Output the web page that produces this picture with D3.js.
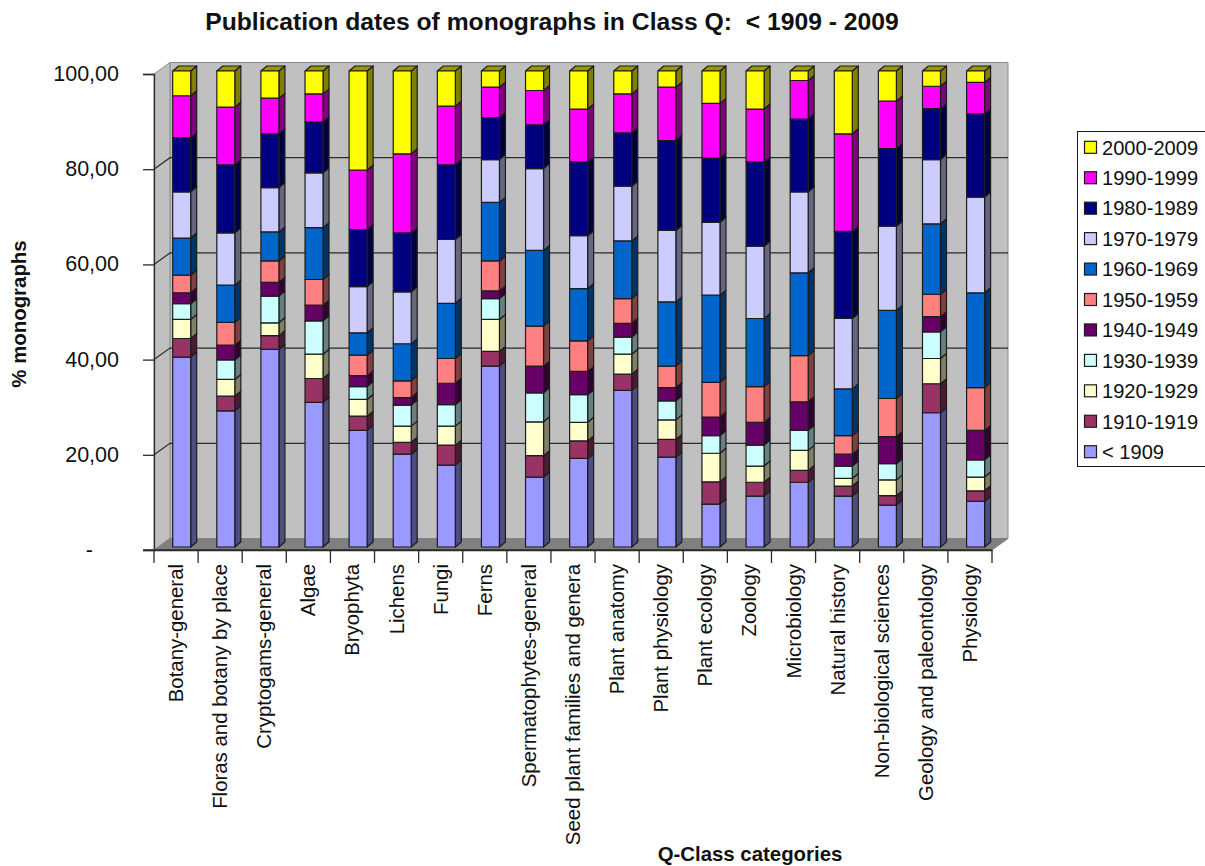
<!DOCTYPE html>
<html>
<head>
<meta charset="utf-8">
<script src="https://cdn.jsdelivr.net/npm/d3@7/dist/d3.min.js"></script>
<style>
html, body { margin: 0; padding: 0; background: #fff; overflow: hidden; }
svg { display: block; font-family: "Liberation Sans", Arial, sans-serif; }
</style>
</head>
<body>
<svg id="chart" width="1205" height="866"></svg>
<script>
// Share of monographs per publication decade, by Q-Class category
const categories = ["Botany-general", "Floras and botany by place", "Cryptogams-general", "Algae", "Bryophyta", "Lichens", "Fungi", "Ferns", "Spermatophytes-general", "Seed plant families and genera", "Plant anatomy", "Plant physiology", "Plant ecology", "Zoology", "Microbiology", "Natural history", "Non-biological sciences", "Geology and paleontology", "Physiology"];

const before1909 = [39.9, 28.6, 41.5, 30.4, 24.5, 19.5, 17.2, 38.0, 14.7, 18.6, 32.9, 18.9, 9.0, 10.7, 13.6, 10.7, 8.8, 28.2, 9.6];
const d1910 = [3.9, 3.1, 2.9, 5.0, 3.0, 2.5, 4.2, 3.1, 4.5, 3.7, 3.4, 3.7, 4.7, 2.9, 2.5, 2.1, 2.0, 6.1, 2.2];
const d1920 = [4.0, 3.5, 2.7, 5.1, 3.5, 3.4, 4.0, 6.7, 7.1, 3.9, 4.2, 4.1, 6.0, 3.4, 4.2, 1.6, 3.3, 5.3, 2.9];
const d1930 = [3.3, 4.1, 5.6, 7.0, 2.7, 4.4, 4.5, 4.4, 6.1, 5.8, 3.6, 4.0, 3.7, 4.4, 4.2, 2.6, 3.4, 5.6, 3.6];
const d1940 = [2.3, 3.1, 2.9, 3.3, 2.3, 1.6, 4.5, 1.6, 5.6, 4.9, 2.9, 2.8, 3.9, 4.8, 6.0, 2.5, 5.7, 3.2, 6.2];
const d1950 = [3.7, 4.8, 4.5, 5.4, 4.3, 3.5, 5.2, 6.3, 8.4, 6.4, 5.2, 4.5, 7.3, 7.5, 9.7, 3.9, 8.0, 4.7, 9.0];
const d1960 = [7.8, 7.8, 6.1, 10.9, 4.7, 7.8, 11.6, 12.3, 15.9, 11.0, 12.1, 13.5, 18.3, 14.3, 17.4, 9.8, 18.5, 14.8, 19.9];
const d1970 = [9.7, 11.0, 9.3, 11.5, 9.7, 10.9, 13.4, 9.0, 17.2, 11.1, 11.5, 15.0, 15.3, 15.2, 17.0, 14.8, 17.7, 13.5, 20.1];
const d1980 = [11.4, 14.3, 11.3, 10.7, 12.0, 12.4, 15.7, 8.8, 9.2, 15.5, 11.2, 18.9, 13.5, 17.7, 15.3, 18.3, 16.3, 10.7, 17.5];
const d1990 = [8.8, 12.1, 7.5, 5.9, 12.5, 16.6, 12.3, 6.4, 7.2, 11.1, 8.2, 11.2, 11.5, 11.1, 8.1, 20.5, 10.0, 4.7, 6.6];
const d2000 = [5.2, 7.6, 5.7, 4.8, 20.8, 17.4, 7.4, 3.4, 4.1, 8.0, 4.8, 3.4, 6.8, 8.0, 2.0, 13.2, 6.3, 3.2, 2.4];

const seriesNames = ["< 1909", "1910-1919", "1920-1929", "1930-1939", "1940-1949", "1950-1959", "1960-1969", "1970-1979", "1980-1989", "1990-1999", "2000-2009"];
const seriesColors = ["#9999ff", "#993366", "#ffffcc", "#ccffff", "#660066", "#ff8080", "#0066cc", "#ccccff", "#000080", "#ff00ff", "#ffff00"];
const seriesValues = [before1909, d1910, d1920, d1930, d1940, d1950, d1960, d1970, d1980, d1990, d2000];
const yTicks = [0, 20, 40, 60, 80, 100];

const svg = d3.select("#chart");

// Pseudo-3D box: front plane, back wall offset, and bar depth
const frontLeft = 154, frontRight = 992, frontBottom = 550, frontTop = 74;
const wallDx = 16, wallDy = -11.5;
const barDx = 6, barDy = -5, barWidth = 18, barInset = 18.7, barLift = -3;

const xSlot = d3.scaleBand().domain(categories).range([frontLeft, frontRight]);
const yAxisScale = d3.scaleLinear().domain([0, 100]).range([frontBottom, frontTop]);
const yBar = d3.scaleLinear().domain([0, 100]).range([frontBottom + barLift, frontTop + barLift]);

const pts = a => a.map(p => p.join(",")).join(" ");
const shade = (c, k) => { const r = d3.rgb(c); return d3.rgb(r.r * k, r.g * k, r.b * k).formatHex(); };

// Walls and floor
const walls = svg.append("g");
walls.append("polygon")
  .attr("points", pts([[frontLeft + wallDx, frontTop + wallDy], [frontRight + wallDx, frontTop + wallDy], [frontRight + wallDx, frontBottom + wallDy], [frontLeft + wallDx, frontBottom + wallDy]]))
  .attr("fill", "#c0c0c0").attr("stroke", "#8c8c8c").attr("stroke-width", 1);
walls.append("polygon")
  .attr("points", pts([[frontLeft, frontTop], [frontLeft + wallDx, frontTop + wallDy], [frontLeft + wallDx, frontBottom + wallDy], [frontLeft, frontBottom]]))
  .attr("fill", "#c0c0c0").attr("stroke", "#8c8c8c").attr("stroke-width", 1);
walls.append("polygon")
  .attr("points", pts([[frontLeft, frontBottom], [frontLeft + wallDx, frontBottom + wallDy], [frontRight + wallDx, frontBottom + wallDy], [frontRight, frontBottom]]))
  .attr("fill", "#808080").attr("stroke", "#808080").attr("stroke-width", 1);

// Gridlines run along the back wall and fold down the side wall
const grid = svg.append("g").attr("stroke", "#2b2b2b").attr("stroke-width", 1.2).attr("fill", "none");
yTicks.filter(t => t > 0 && t < 100).forEach(t => {
  const y0 = yAxisScale(t);
  grid.append("polyline")
    .attr("points", pts([[frontLeft, y0], [frontLeft + wallDx, y0 + wallDy], [frontRight + wallDx, y0 + wallDy]]));
});

// Stacked columns
const stack = d3.stack().keys(d3.range(seriesNames.length)).value((row, k) => row[k]);
const rows = categories.map((c, i) => seriesValues.map(s => s[i]));
const layers = stack(rows);

const barsG = svg.append("g").attr("stroke", "#1c1c1c").attr("stroke-width", 1.2).attr("stroke-linejoin", "round");
categories.forEach((cat, i) => {
  const g = barsG.append("g");
  const x0 = xSlot(cat) + barInset, x1 = x0 + barWidth;
  layers.forEach((layer, k) => {
    const yb = yBar(layer[i][0]), yt = yBar(layer[i][1]);
    const col = seriesColors[k];
    g.append("polygon")
      .attr("points", pts([[x1, yt], [x1 + barDx, yt + barDy], [x1 + barDx, yb + barDy], [x1, yb]]))
      .attr("fill", shade(col, 0.5));
    if (k === layers.length - 1) {
      g.append("polygon")
        .attr("points", pts([[x0, yt], [x0 + barDx, yt + barDy], [x1 + barDx, yt + barDy], [x1, yt]]))
        .attr("fill", shade(col, 0.6));
    }
    g.append("rect")
      .attr("x", x0).attr("y", yt).attr("width", barWidth).attr("height", yb - yt)
      .attr("fill", col);
  });
});

// Axes; the accounting-style zero is a dash set further left than the numbers
const yAxis = d3.axisLeft(yAxisScale)
  .tickValues(yTicks)
  .tickSize(11)
  .tickPadding(24)
  .tickFormat(d => d === 0 ? "-" : d3.format(".2f")(d).replace(".", ","));
const yG = svg.append("g").attr("transform", `translate(${frontLeft},0)`).call(yAxis);
yG.selectAll("path,line").attr("stroke", "#2b2b2b").attr("stroke-width", 1.3);
yG.selectAll("text").attr("font-size", 21.5).attr("fill", "#111").attr("font-family", "Liberation Sans").attr("dy", "0.3em");
yG.selectAll(".tick").filter(d => d === 0).select("text").attr("x", -61);

const xAxis = d3.axisBottom(xSlot).tickSize(0).tickFormat("");
const xG = svg.append("g").attr("transform", `translate(0,${frontBottom})`).call(xAxis);
xG.selectAll("path").attr("stroke", "#2b2b2b").attr("stroke-width", 1.3);
xG.selectAll(".tick").remove();
xG.append("line").attr("x1", frontLeft - 11).attr("x2", frontRight).attr("stroke", "#2b2b2b").attr("stroke-width", 1.3);
categories.concat(null).forEach(c => {
  const x = c ? xSlot(c) : frontRight;
  xG.append("line").attr("x1", x).attr("x2", x).attr("y1", 0).attr("y2", 13)
    .attr("stroke", "#2b2b2b").attr("stroke-width", 1.3);
});

// Rotated category labels, reading upward and ending just below the axis
svg.append("g").selectAll("text").data(categories).join("text")
  .attr("transform", d => `translate(${xSlot(d) + xSlot.bandwidth() / 2 + 7},564) rotate(-90)`)
  .attr("text-anchor", "end")
  .attr("font-size", 20.4)
  .attr("fill", "#111")
  .text(d => d);

// Titles
svg.append("text").attr("x", 552).attr("y", 30).attr("text-anchor", "middle")
  .attr("font-size", 24.7).attr("font-weight", "bold").attr("fill", "#111")
  .attr("xml:space", "preserve")
  .text("Publication dates of monographs in Class Q:  < 1909 - 2009");
svg.append("text").attr("transform", "translate(26,314) rotate(-90)").attr("text-anchor", "middle")
  .attr("font-size", 20.4).attr("font-weight", "bold").attr("fill", "#111")
  .text("% monographs");
svg.append("text").attr("x", 750).attr("y", 861).attr("text-anchor", "middle")
  .attr("font-size", 20.4).attr("font-weight", "bold").attr("fill", "#111")
  .text("Q-Class categories");

// Legend, newest decade first
const legend = svg.append("g");
legend.append("rect").attr("x", 1077.5).attr("y", 131.5).attr("width", 140).attr("height", 335)
  .attr("fill", "#fff").attr("stroke", "#1c1c1c").attr("stroke-width", 1);
const legendY = d3.scalePoint().domain(d3.range(seriesNames.length).reverse()).range([147.3, 451.7]);
const legendItems = legend.selectAll("g").data(d3.range(seriesNames.length)).join("g")
  .attr("transform", k => `translate(1084.5,${legendY(k)})`);
legendItems.append("rect").attr("x", 0).attr("y", -6).attr("width", 12).attr("height", 12)
  .attr("fill", k => seriesColors[k]).attr("stroke", "#1c1c1c").attr("stroke-width", 1.2);
legendItems.append("text").attr("x", 17.5).attr("dy", "0.36em")
  .attr("font-size", 20.1).attr("fill", "#111")
  .text(k => seriesNames[k]);
</script>
</body>
</html>
